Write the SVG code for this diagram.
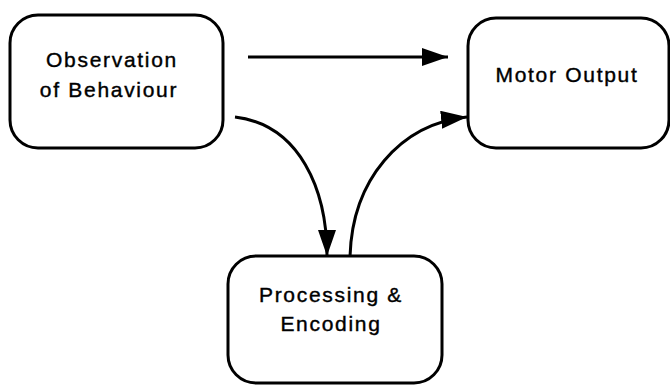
<svg xmlns="http://www.w3.org/2000/svg" width="670" height="385" viewBox="0 0 670 385">
  <defs>
    <marker id="arrow" markerUnits="userSpaceOnUse" markerWidth="28" markerHeight="20" refX="26" refY="9" orient="auto">
      <path d="M0,0 L26,9 L0,18 Z" fill="#000"/>
    </marker>
    <style>
      .box { fill: #fff; stroke: #000; stroke-width: 3; }
      .label { font-family: "Liberation Sans", Arial, sans-serif; font-size: 21px; letter-spacing: 1.7px; fill: #000; stroke: #000; stroke-width: 0.4; text-anchor: middle; }
      .edge { fill: none; stroke: #000; stroke-width: 3; marker-end: url(#arrow); }
    </style>
  </defs>
  <rect width="670" height="385" fill="#fff"/>

  <g id="observation">
    <rect class="box" x="10" y="15" width="213" height="133" rx="28" ry="28"/>
    <text class="label" x="112" y="67">Observation</text>
    <text class="label" x="109" y="97">of Behaviour</text>
  </g>

  <g id="motor-output">
    <rect class="box" x="468" y="18" width="201" height="130" rx="28" ry="28"/>
    <text class="label" x="567" y="82">Motor Output</text>
  </g>

  <g id="processing">
    <rect class="box" x="228" y="256" width="214" height="127" rx="28" ry="28"/>
    <text class="label" x="331" y="302">Processing &amp;</text>
    <text class="label" x="331" y="331">Encoding</text>
  </g>

  <g id="connectors">
    <path class="edge" d="M248,57 L448,57"/>
    <path class="edge" d="M235,117 C300,125 327,190 327,256"/>
    <path class="edge" d="M350,257 C352,180 400,124 467,117"/>
  </g>
</svg>
